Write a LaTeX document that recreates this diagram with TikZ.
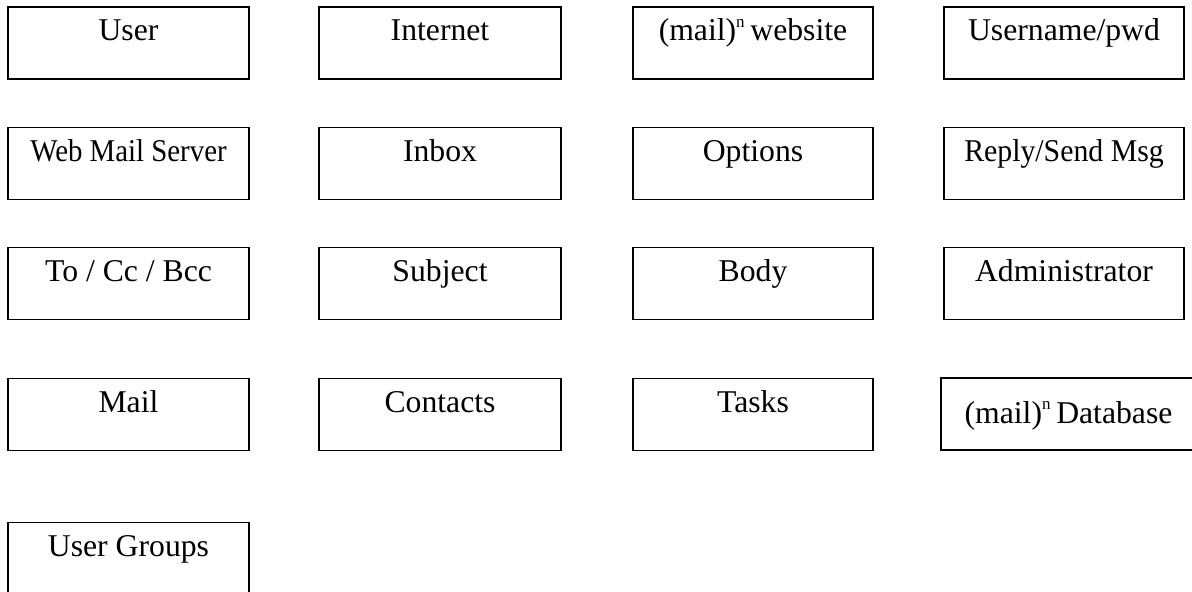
\documentclass[tikz,border=0pt]{standalone}
\usepackage{fontspec}
\setmainfont{Liberation Serif}
\newcommand{\supn}{\raisebox{0.42em}{\fontsize{8.5}{8.5}\selectfont n}\hspace{0.18em}}
\begin{document}
\begin{tikzpicture}[x=0.5pt,y=-0.5pt,
  box/.style={draw=black, line width=0.9pt, minimum height=36pt, inner sep=0pt, outer sep=0pt},
  lbl/.style={anchor=base, inner sep=0pt, font=\fontsize{15.85}{19}\selectfont}]
\useasboundingbox (0,0) rectangle (1192,592);
% row 1
\node[box, minimum width=120.5pt] (user) at (128.5,43) {};
\node[box, minimum width=121pt] (internet) at (440,43) {};
\node[box, minimum width=120pt] (website) at (753,43) {};
\node[box, minimum width=120pt] (pwd) at (1064,43) {};
% row 2
\node[box, minimum width=120.5pt] (server) at (128.5,163.5) {};
\node[box, minimum width=121pt] (inbox) at (440,163.5) {};
\node[box, minimum width=120pt] (options) at (753,163.5) {};
\node[box, minimum width=120pt] (reply) at (1064,163.5) {};
% row 3
\node[box, minimum width=120.5pt] (tocc) at (128.5,283.5) {};
\node[box, minimum width=121pt] (subject) at (440,283.5) {};
\node[box, minimum width=120pt] (body) at (753,283.5) {};
\node[box, minimum width=120pt] (admin) at (1064,283.5) {};
% row 4
\node[box, minimum width=120.5pt] (mail) at (128.5,414.5) {};
\node[box, minimum width=121pt] (contacts) at (440,414.5) {};
\node[box, minimum width=120pt] (tasks) at (753,414.5) {};
\node[box, minimum width=127.5pt] (db) at (1068.5,414) {};
% row 5
\node[box, minimum width=120.5pt] (groups) at (128.5,558.5) {};
% labels
\node[lbl] (tuser) at ([yshift=-17pt]user.north) {User};
\node[lbl] (tinternet) at ([yshift=-17pt]internet.north) {Internet};
\node[lbl] (twebsite) at ([yshift=-17pt]website.north) {(mail)\supn website};
\node[lbl] (tpwd) at ([yshift=-17pt]pwd.north) {Username/pwd};
\node[lbl] (tserver) at ([yshift=-17pt]server.north) {\scalebox{0.91}[1]{Web Mail Server}};
\node[lbl] (tinbox) at ([yshift=-17pt]inbox.north) {Inbox};
\node[lbl] (toptions) at ([yshift=-17pt]options.north) {Options};
\node[lbl] (treply) at ([yshift=-17pt]reply.north) {\scalebox{0.94}[1]{Reply/Send Msg}};
\node[lbl] (ttocc) at ([yshift=-17pt]tocc.north) {To / Cc / Bcc};
\node[lbl] (tsubject) at ([yshift=-17pt]subject.north) {Subject};
\node[lbl] (tbody) at ([yshift=-17pt]body.north) {Body};
\node[lbl] (tadmin) at ([yshift=-17pt]admin.north) {Administrator};
\node[lbl] (tmail) at ([yshift=-17pt]mail.north) {Mail};
\node[lbl] (tcontacts) at ([yshift=-17pt]contacts.north) {Contacts};
\node[lbl] (ttasks) at ([yshift=-17pt]tasks.north) {Tasks};
\node[lbl] (tdb) at ([yshift=-22.5pt]db.north) {(mail)\supn Database};
\node[lbl] (tgroups) at ([yshift=-17pt]groups.north) {User Groups};
\end{tikzpicture}
\end{document}
